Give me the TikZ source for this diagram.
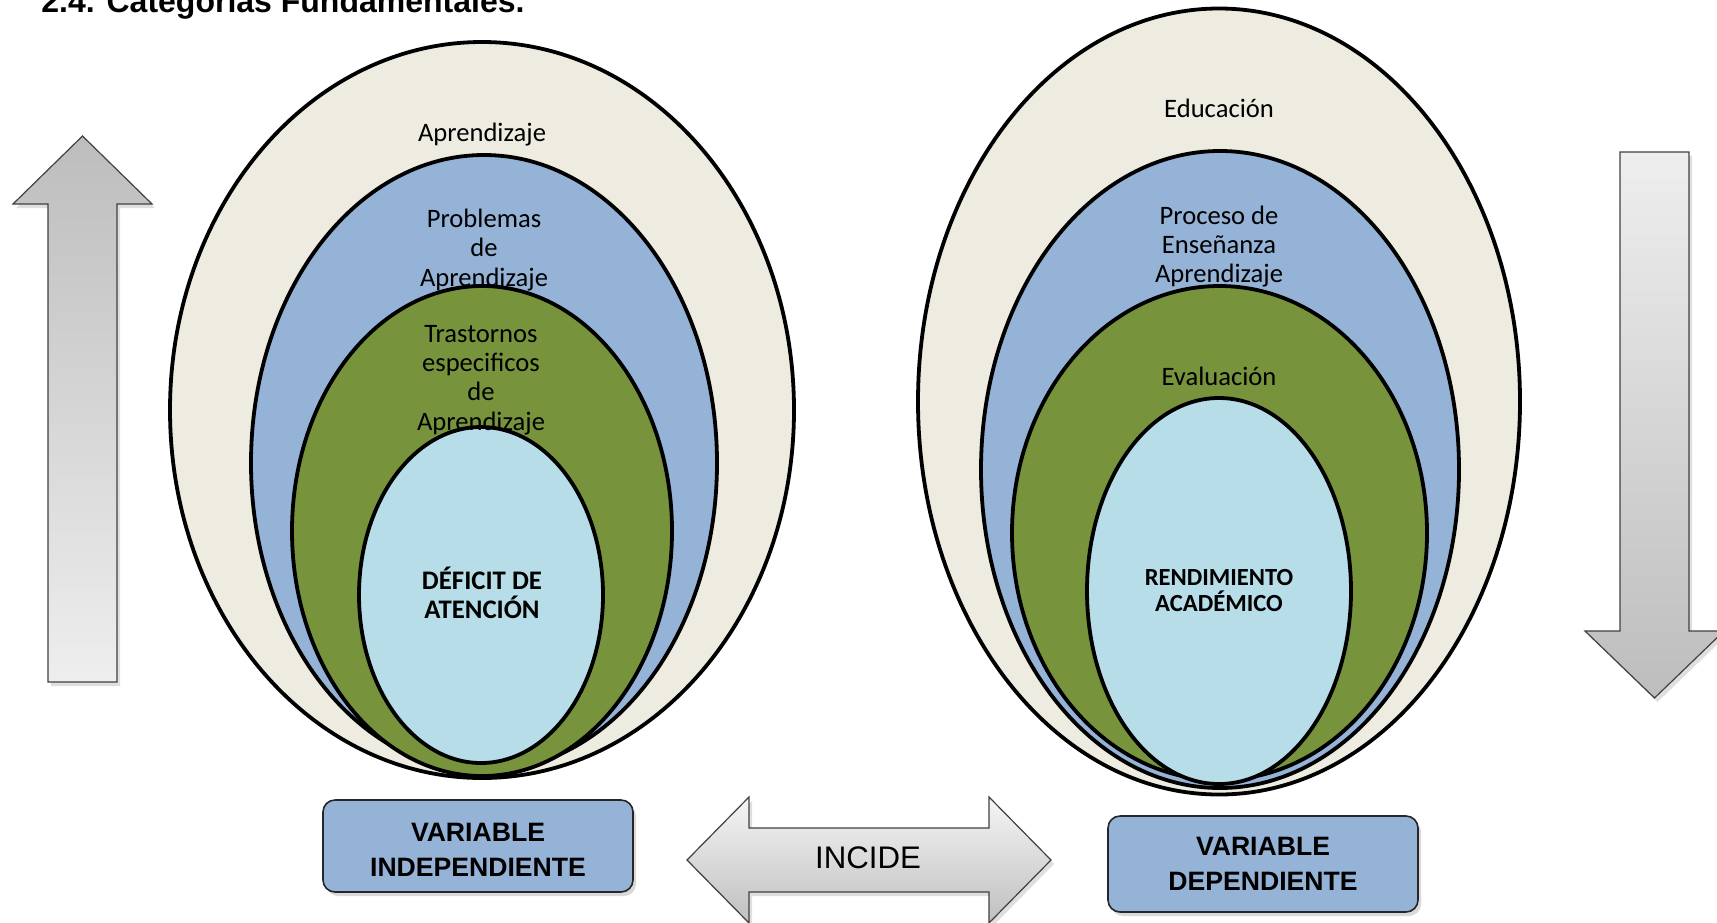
\documentclass[tikz,border=0pt]{standalone}
\usepackage{fontspec}
\setmainfont{Carlito}
\newfontfamily\arialf{Liberation Sans}
\usetikzlibrary{shapes.geometric,shadows}
\definecolor{beigev}{HTML}{EEECE1}
\definecolor{bluev}{HTML}{95B3D7}
\definecolor{greenv}{HTML}{77933C}
\definecolor{lbluev}{HTML}{B7DDE8}
\definecolor{gdark}{HTML}{BDBDBD}
\definecolor{glight}{HTML}{EEEEEE}
\begin{document}
\begin{tikzpicture}[x=0.5pt,y=-0.5pt,
  ell/.style={ellipse, draw=black, line width=1.9pt, inner sep=0pt},
  lbl/.style={font=\fontsize{13.3}{14.6}\selectfont, align=center, inner sep=0pt},
  blbl/.style={font=\fontsize{13.4}{14.3}\selectfont\bfseries, align=center, inner sep=0pt},
  varbox/.style={draw=black!85, line width=0.8pt, fill=bluev, rounded corners=6pt,
    minimum width=155pt, inner sep=0pt,
    drop shadow={shadow xshift=1.5pt, shadow yshift=-2pt, opacity=0.3}},
  vartext/.style={align=center, inner sep=0pt,
    font=\arialf\bfseries\fontsize{13.3}{17.5}\selectfont},
  arrowshape/.style={draw=black!75, line width=0.6pt,
    drop shadow={shadow xshift=1.5pt, shadow yshift=-2pt, opacity=0.25}}
]
\useasboundingbox (0,0) rectangle (1717,922);
\clip (0,0) rectangle (1717,922);

% title
\node[anchor=base west, inner sep=0pt, font=\arialf\bfseries\fontsize{16}{19}\selectfont] (title) at (41,12.7) {2.4. Categorías Fundamentales.};

% left arrow (up)
\path[arrowshape, top color=gdark, bottom color=glight]
  (48,682) -- (48,204) -- (13,204) -- (82.5,136) -- (152,204) -- (117,204) -- (117,682) -- cycle;

% right arrow (down)
\path[arrowshape, top color=glight, bottom color=gdark]
  (1620,152) -- (1689,152) -- (1689,631) -- (1724,631) -- (1654.5,698) -- (1585,631) -- (1620,631) -- cycle;

% left ellipses
\node[ell, fill=beigev, minimum width=312pt, minimum height=368pt] (lo) at (482,410) {};
\node[ell, fill=bluev, minimum width=233pt, minimum height=308pt] (lb) at (484,463) {};
\node[ell, fill=greenv, minimum width=190pt, minimum height=245pt] (lg) at (482,531) {};
\node[ell, fill=lbluev, minimum width=122pt, minimum height=168pt] (li) at (481,595) {};

\node[lbl] (t1) at (482,135) {Aprendizaje};
\node[lbl] (t2) at (484,250) {Problemas\\de\\Aprendizaje};
\node[lbl] (t3) at (481,380) {Trastornos\\especificos\\de\\Aprendizaje};
\node[blbl] (t4) at (482,593) {DÉFICIT DE\\ATENCIÓN};

% right ellipses
\node[ell, fill=beigev, minimum width=301pt, minimum height=393pt] (ro) at (1219,401.5) {};
\node[ell, fill=bluev, minimum width=239pt, minimum height=318.5pt] (rb) at (1220,469.5) {};
\node[ell, fill=greenv, minimum width=207.5pt, minimum height=247pt] (rg) at (1219.5,533) {};
\node[ell, fill=lbluev, minimum width=132pt, minimum height=193pt] (ri) at (1219,591) {};

\node[lbl] (r1) at (1219,108) {Educación};
\node[lbl] (r2) at (1219,246.5) {Proceso de\\Enseñanza\\Aprendizaje};
\node[lbl] (r3) at (1219,376) {Evaluación};
\node[blbl, font=\fontsize{12.3}{13}\selectfont\bfseries] (r4) at (1219,591) {RENDIMIENTO\\ACADÉMICO};

% boxes
\node[varbox, minimum height=46pt] (vi) at (478,846) {};
\node[vartext] (vit) at (478,849.5) {VARIABLE\\INDEPENDIENTE};
\node[varbox, minimum height=48pt] (vd) at (1263,864) {};
\node[vartext] (vdt) at (1263,864) {VARIABLE\\DEPENDIENTE};

% double arrow
\path[arrowshape, top color=white!96!black, bottom color=black!25]
  (687,860) -- (749,797) -- (749,828) -- (989,828) -- (989,797) -- (1051,860) -- (989,923) -- (989,892) -- (749,892) -- (749,923) -- cycle;
\node[inner sep=0pt, font=\arialf\fontsize{15.6}{18}\selectfont] (inc) at (868,858) {INCIDE};
\end{tikzpicture}
\end{document}
